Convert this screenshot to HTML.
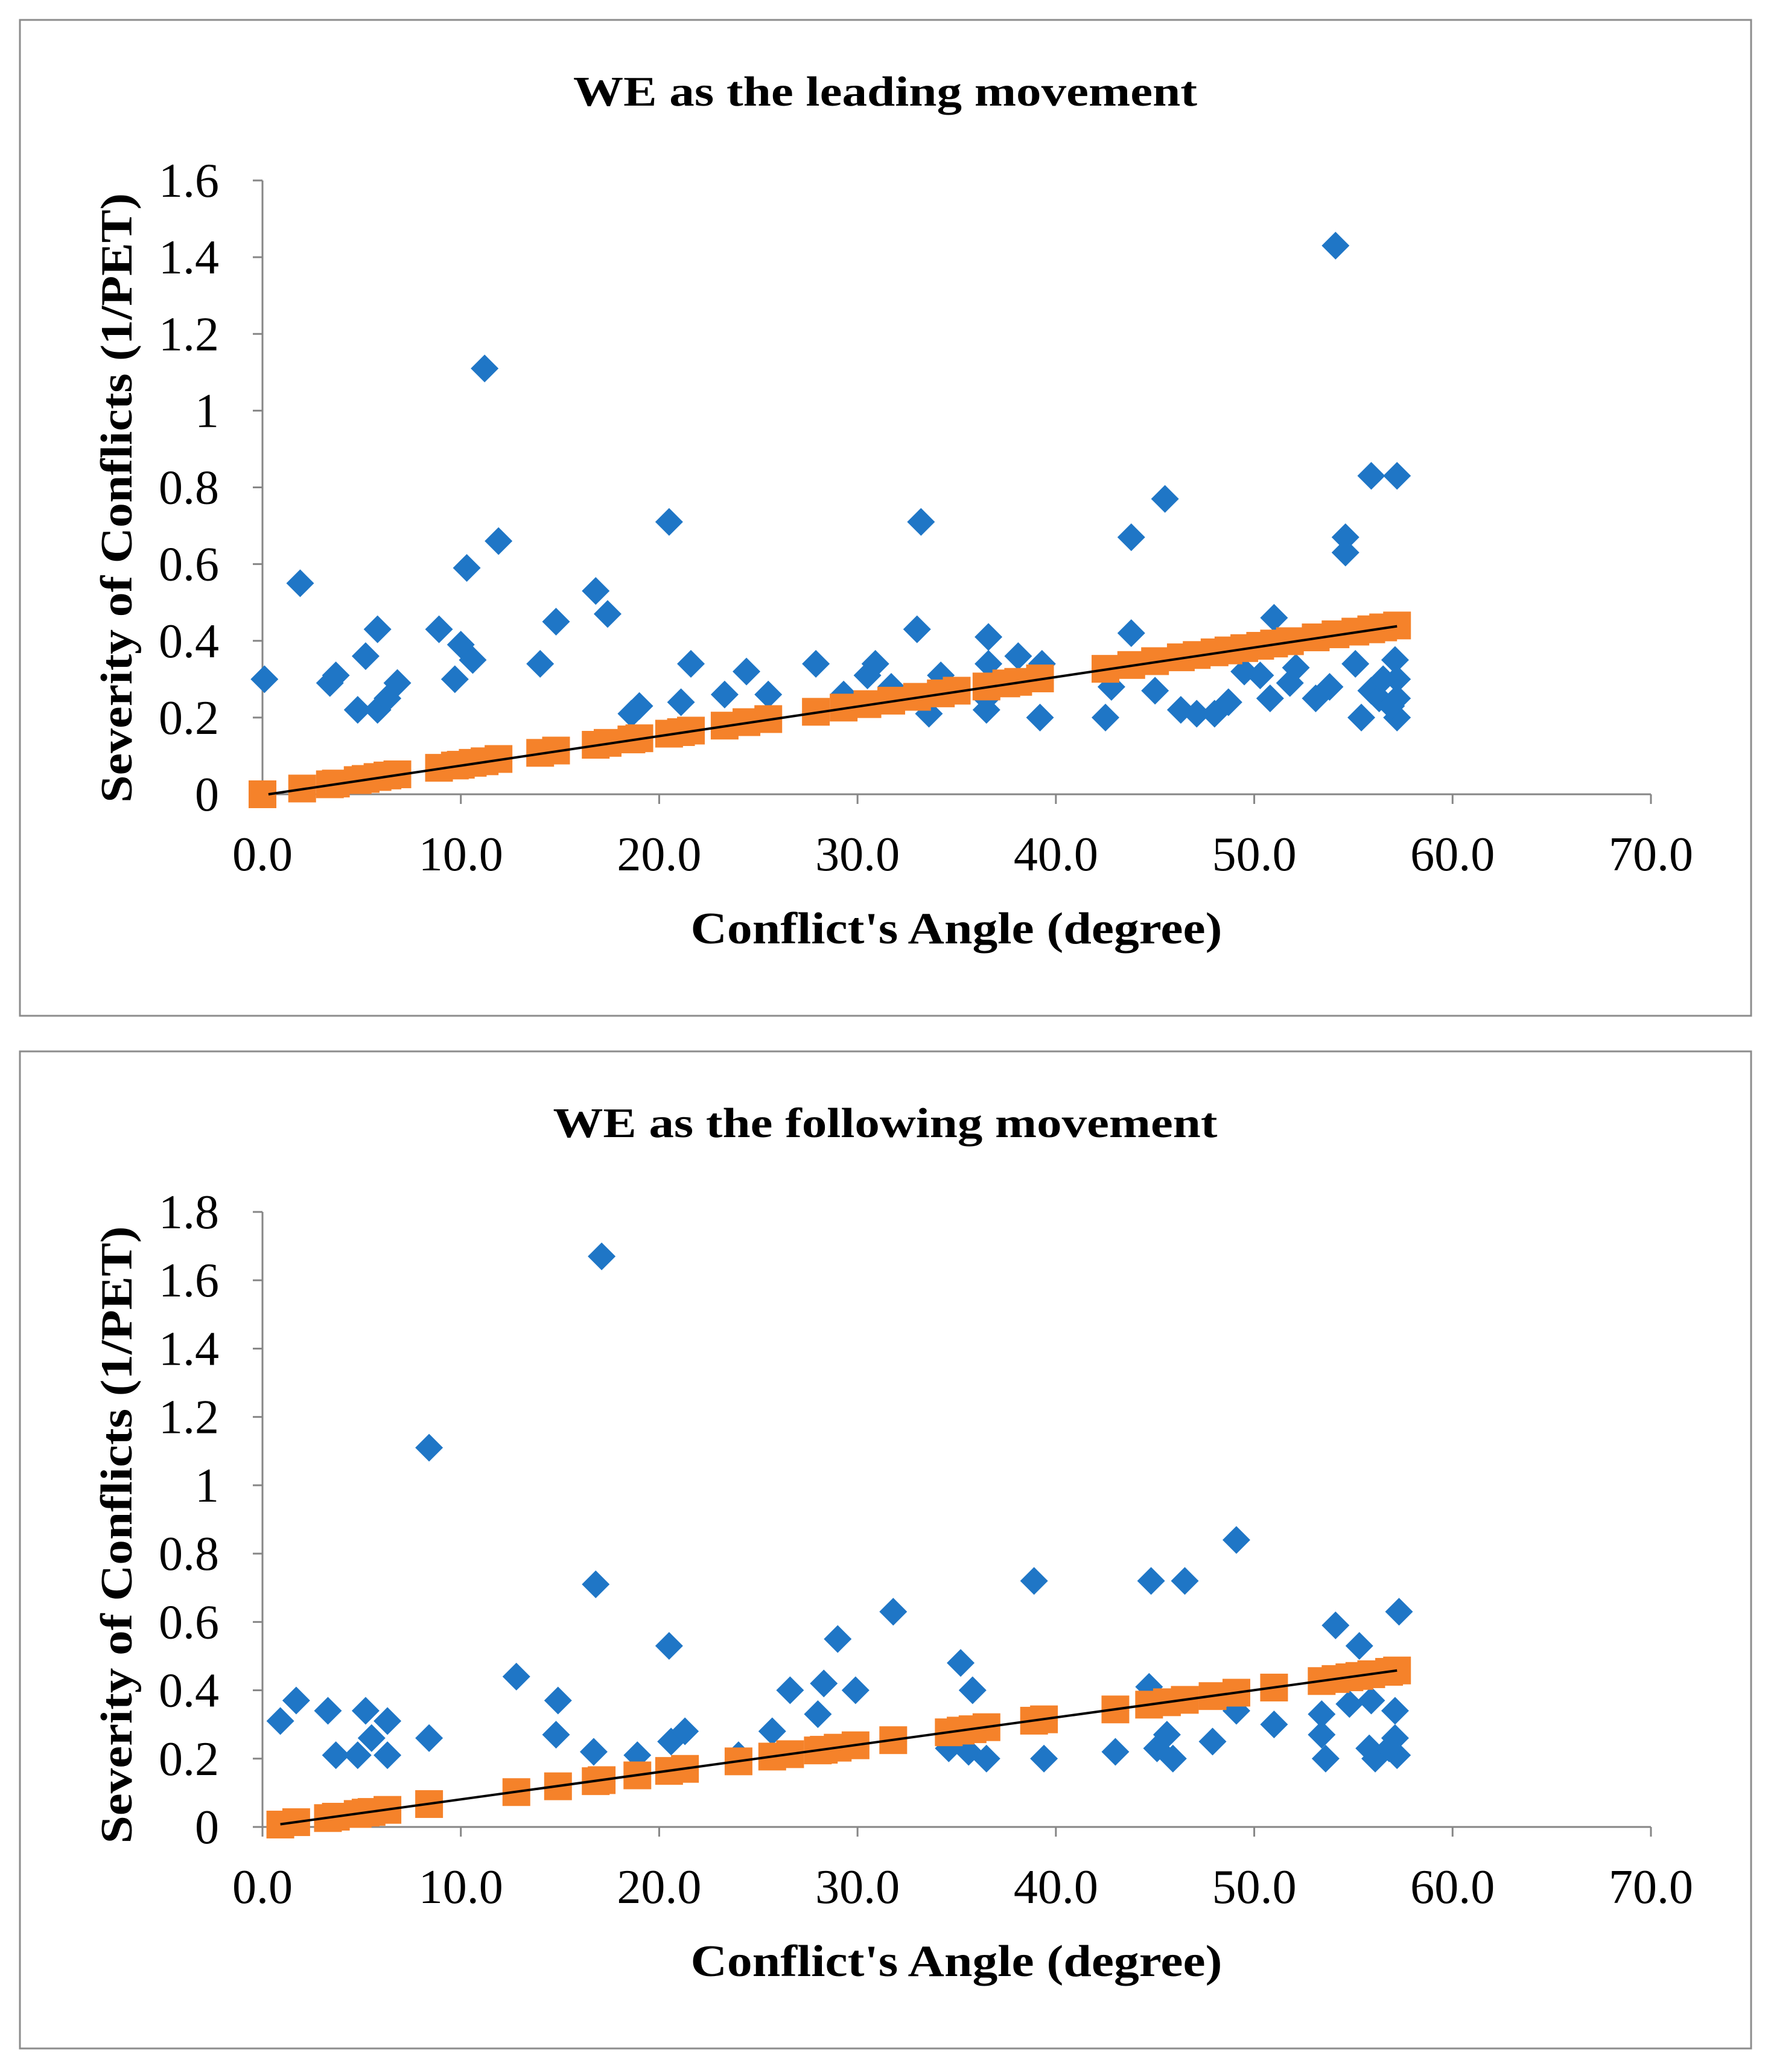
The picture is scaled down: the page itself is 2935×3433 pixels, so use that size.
<!DOCTYPE html>
<html><head><meta charset="utf-8"><style>
html,body{margin:0;padding:0;background:#fff}
svg{display:block}
text{font-family:"Liberation Serif",serif;fill:#000}
</style></head><body>
<svg id="chart" xmlns="http://www.w3.org/2000/svg" width="2935" height="3433" viewBox="0 0 2935 3433">
<rect x="0" y="0" width="2935" height="3433" fill="#fff"/>
</svg>
<script>
// ---- Top chart data ----
const topBlueX=[0.1,1.9,3.4,3.7,4.8,5.2,5.8,5.8,6.3,6.8,8.9,9.7,10.0,10.6,10.3,11.2,11.9,14.0,14.8,16.8,17.4,18.6,19.0,20.5,21.1,21.6,23.3,24.4,25.5,27.9,29.3,30.5,30.9,31.7,33.0,33.2,33.6,34.2,36.5,36.5,36.6,36.6,38.1,39.2,39.3,42.5,42.8,43.8,43.8,45.0,45.5,46.3,47.1,48.0,48.7,49.5,50.3,51.0,50.8,51.8,52.1,53.1,54.1,54.6,54.6,55.1,55.4,55.9,55.9,56.3,57.2,57.1,57.2,57.2,57.2,56.9,53.8,56.5];
const topBlueY=[0.30,0.55,0.29,0.31,0.22,0.36,0.43,0.22,0.25,0.29,0.43,0.30,0.39,0.35,0.59,1.11,0.66,0.34,0.45,0.53,0.47,0.21,0.23,0.71,0.24,0.34,0.26,0.32,0.26,0.34,0.26,0.31,0.34,0.28,0.43,0.71,0.21,0.31,0.25,0.22,0.41,0.34,0.36,0.20,0.34,0.20,0.28,0.67,0.42,0.27,0.77,0.22,0.21,0.21,0.24,0.32,0.31,0.46,0.25,0.29,0.33,0.25,1.43,0.67,0.63,0.34,0.20,0.83,0.27,0.25,0.83,0.35,0.30,0.25,0.20,0.23,0.28,0.30];
const topOrangeX=[0,2,3.4,3.7,4.8,5.2,5.8,6.3,6.8,8.9,9.7,10,10.6,11.2,11.9,14,14.8,16.8,17.4,18.6,19,20.5,21.1,21.6,23.3,24.4,25.5,27.9,29.3,30.5,31.7,33,34.2,35,36.5,37.5,38.1,39.2,42.5,43.8,45,46.3,47.1,48,48.7,49.5,50.3,51,51.8,53.1,54.1,55.1,55.9,56.5,57.2];
const topOrangeY=[0,0.015,0.026,0.028,0.037,0.04,0.045,0.049,0.052,0.069,0.075,0.077,0.082,0.086,0.092,0.108,0.114,0.129,0.134,0.143,0.146,0.158,0.162,0.166,0.179,0.188,0.196,0.215,0.226,0.235,0.244,0.254,0.263,0.27,0.281,0.289,0.293,0.302,0.327,0.337,0.347,0.357,0.363,0.37,0.375,0.381,0.387,0.393,0.399,0.409,0.417,0.424,0.43,0.435,0.44];
const topTrendX=[0.3,57.2];
const topTrendY=[0,0.438];
const topYTicks=["0","0.2","0.4","0.6","0.8","1","1.2","1.4","1.6"];
const topYTickVals=[0,0.2,0.4,0.6,0.8,1,1.2,1.4,1.6];
// ---- Bottom chart data ----
const botBlueX=[0.9,1.7,3.3,3.7,4.8,5.2,5.5,6.3,6.3,8.4,8.4,12.8,14.9,14.8,16.7,16.8,17.1,18.9,20.5,20.6,21.3,24.0,25.7,26.6,28.0,28.3,29.0,29.9,31.8,34.6,35.2,35.8,35.6,36.5,38.9,39.4,43.0,44.7,44.8,45.1,45.6,45.9,46.5,47.9,49.1,49.1,51.0,53.4,53.4,53.6,54.1,55.3,54.8,55.9,55.8,56.1,57.3,57.1,57.1,57.2,56.8];
const botBlueY=[0.31,0.37,0.34,0.21,0.21,0.34,0.26,0.31,0.21,1.11,0.26,0.44,0.37,0.27,0.22,0.71,1.67,0.21,0.53,0.25,0.28,0.21,0.28,0.40,0.33,0.42,0.55,0.40,0.63,0.23,0.48,0.40,0.22,0.20,0.72,0.20,0.22,0.41,0.72,0.23,0.27,0.20,0.72,0.25,0.84,0.34,0.30,0.33,0.27,0.20,0.59,0.53,0.36,0.37,0.23,0.20,0.63,0.34,0.26,0.21,0.23];
const botOrangeX=[0.9,1.7,3.3,3.7,4.8,5.2,5.5,6.3,8.4,12.8,14.9,16.8,17.1,18.9,20.5,21.3,24,25.7,26.6,28,28.3,29,29.9,31.8,34.6,35.2,35.8,36.5,38.9,39.4,43,44.7,45.6,46.5,47.9,49.1,51,53.4,54.1,54.8,55.3,55.9,56.8,57.2];
const botOrangeY=[0.007,0.014,0.026,0.03,0.038,0.042,0.044,0.05,0.067,0.102,0.119,0.134,0.137,0.151,0.164,0.17,0.192,0.206,0.213,0.224,0.226,0.232,0.239,0.254,0.277,0.282,0.286,0.292,0.311,0.315,0.344,0.358,0.365,0.372,0.383,0.393,0.408,0.427,0.433,0.438,0.442,0.447,0.454,0.458];
const botTrendX=[0.9,57.2];
const botTrendY=[0.008,0.458];
const botYTicks=["0","0.2","0.4","0.6","0.8","1","1.2","1.4","1.6","1.8"];
const botYTickVals=[0,0.2,0.4,0.6,0.8,1,1.2,1.4,1.6,1.8];
const xTicks=["0.0","10.0","20.0","30.0","40.0","50.0","60.0","70.0"];
const xTickVals=[0,10,20,30,40,50,60,70];

const NS="http://www.w3.org/2000/svg";
const svg=document.getElementById('chart');
function mk(tag,attrs,parent,txt){const e=document.createElementNS(NS,tag);for(const k in attrs)e.setAttribute(k,attrs[k]);if(txt!==undefined)e.textContent=txt;(parent||svg).appendChild(e);return e;}

function drawChart(cfg){
  const g=mk('g',{});
  
  
  const frame=mk('rect',{x:cfg.fx,y:cfg.fy,width:cfg.fw,height:cfg.fh,fill:'#fff',stroke:'#8c8c8c','stroke-width':3},g);
  
  
  const X0=435,X1=2736;
  const xs=v=>X0+(v-0)/(70-0)*(X1-X0);
  const ys=v=>cfg.y0+(v-0)/(cfg.ymax)*(cfg.ytop-cfg.y0);
  const t=mk('text',{x:1467,y:cfg.titleY,'text-anchor':'middle','font-size':70,'font-weight':'bold',textLength:cfg.titleLen,lengthAdjust:'spacingAndGlyphs'},g,cfg.title);
  
  
  const ya=mk('line',{x1:X0,y1:cfg.y0,x2:X0,y2:cfg.ytop,stroke:'#868686','stroke-width':3},g);
  
  
  const xa=mk('line',{x1:X0,y1:cfg.y0,x2:X1,y2:cfg.y0,stroke:'#868686','stroke-width':3},g);
  
  
  cfg.yvals.forEach((v,i)=>{
    const y=ys(v);
    const tk=mk('line',{x1:X0-16,y1:y,x2:X0,y2:y,stroke:'#868686','stroke-width':3},g);
    
    
    const lb=mk('text',{x:363,y:y+27,'text-anchor':'end','font-size':80},g,cfg.ylabels[i]);
    
    
  });
  xTickVals.forEach((v,i)=>{
    const x=xs(v);
    const tk=mk('line',{x1:x,y1:cfg.y0,x2:x,y2:cfg.y0+16,stroke:'#868686','stroke-width':3},g);
    
    
    const lb=mk('text',{x:x,y:cfg.xlabY,'text-anchor':'middle','font-size':80},g,xTicks[i]);
    
    
  });
  const xt=mk('text',{x:1585,y:cfg.xtitleY,'text-anchor':'middle','font-size':74,'font-weight':'bold',textLength:881,lengthAdjust:'spacingAndGlyphs'},g,"Conflict's Angle (degree)");
  
  
  const ty=mk('text',{x:0,y:0,'text-anchor':'middle','font-size':74,'font-weight':'bold',textLength:cfg.ytLen,lengthAdjust:'spacingAndGlyphs',transform:`translate(218,${cfg.ytCenter}) rotate(-90)`},g,"Severity of Conflicts (1/PET)");
  
  
  cfg.bx.forEach((v,i)=>{
    const x=xs(v),y=ys(cfg.by[i]),r=23;
    const p=mk('polygon',{points:`${x},${y-r} ${x+r},${y} ${x},${y+r} ${x-r},${y}`,fill:'#1f76c6'},g);
    
    
  });
  cfg.ox.forEach((v,i)=>{
    const x=xs(v),y=ys(cfg.oy[i]),h=23;
    const r=mk('rect',{x:x-h,y:y-h,width:2*h,height:2*h,fill:'#f5822a'},g);
    
    
  });
  const ln=mk('line',{x1:xs(cfg.tx[0]),y1:ys(cfg.ty[0]),x2:xs(cfg.tx[1]),y2:ys(cfg.ty[1]),stroke:'#000','stroke-width':4},g);
  
  
}
drawChart({name:'leading-movement-chart',fx:33,fy:33,fw:2869,fh:1650,title:'WE as the leading movement',titleY:175,titleLen:1034,
  y0:1316,ytop:299,ymax:1.6,ylabels:topYTicks,yvals:topYTickVals,xlabY:1442,xtitleY:1563,ytLen:1010,ytCenter:825,
  bx:topBlueX,by:topBlueY,ox:topOrangeX,oy:topOrangeY,tx:topTrendX,ty:topTrendY});
drawChart({name:'following-movement-chart',fx:33,fy:1742,fw:2869,fh:1652,title:'WE as the following movement',titleY:1884,titleLen:1101,
  y0:3027,ytop:2008,ymax:1.8,ylabels:botYTicks,yvals:botYTickVals,xlabY:3153,xtitleY:3274,ytLen:1023,ytCenter:2543,
  bx:botBlueX,by:botBlueY,ox:botOrangeX,oy:botOrangeY,tx:botTrendX,ty:botTrendY});
</script>
</body></html>
